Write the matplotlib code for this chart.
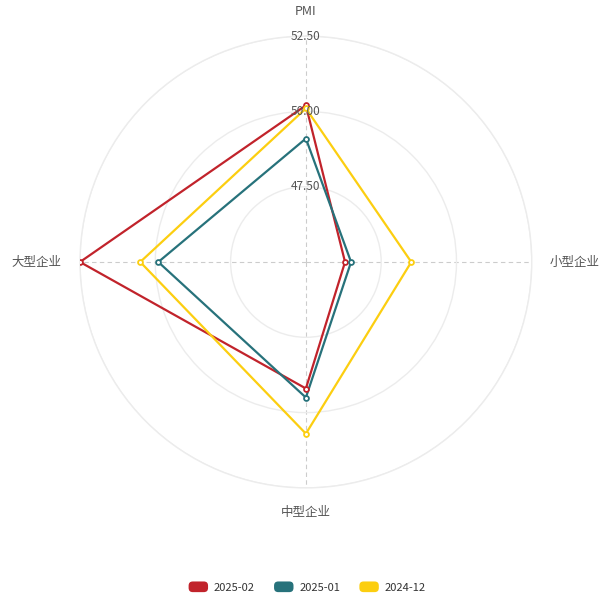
import numpy as np
import matplotlib
matplotlib.use("Agg")
import matplotlib.pyplot as plt
from matplotlib.patches import FancyBboxPatch, Patch
from matplotlib.legend_handler import HandlerPatch

plt.rcParams['font.family'] = ['Noto Sans CJK SC', 'DejaVu Sans']

# data
indicators = ["PMI", "小型企业", "中型企业", "大型企业"]
series_names = ["2025-02", "2025-01", "2024-12"]
vals_2025_02 = [50.2, 46.3, 49.2, 52.5]
vals_2025_01 = [49.1, 46.5, 49.5, 49.9]
vals_2024_12 = [50.1, 48.5, 50.7, 50.5]
colors = ["#C1232B", "#27727B", "#FCCE10"]
r_min, r_max = 45.0, 52.5
r_ticks = [47.5, 50.0, 52.5]


class RoundHandler(HandlerPatch):
    def create_artists(self, legend, orig_handle, xdescent, ydescent,
                       width, height, fontsize, trans):
        p = FancyBboxPatch((-xdescent + 1, -ydescent), width - 2, height,
                           boxstyle="round,pad=0,rounding_size=3",
                           facecolor=orig_handle.get_facecolor(),
                           edgecolor="none", transform=trans)
        return [p]


fig = plt.figure(figsize=(6.13, 5.99), dpi=100)
ax = fig.add_axes([0.1305, 0.1853, 0.737, 0.7546], projection="polar")
ax.set_theta_zero_location("N")
ax.set_theta_direction(-1)
ax.set_ylim(r_min, r_max)

n = len(indicators)
theta = np.arange(n) * 2 * np.pi / n

# grid
ax.set_xticks(theta)
ax.set_xticklabels([])
ax.set_yticks(r_ticks)
ax.set_yticklabels([])
ax.xaxis.grid(True, color="#cccccc", linestyle=(0, (4, 3)), linewidth=0.8)
ax.yaxis.grid(True, color="#ececec", linestyle="-", linewidth=1.0)
ax.spines["polar"].set_color("#ececec")
ax.spines["polar"].set_linewidth(1.0)
ax.tick_params(length=0)

for v in r_ticks:
    ax.text(0, v, f"{v:.2f}", ha="center", va="center", fontsize=8.5,
            color="#555555", zorder=5)

# indicator names
label_r = 53.1
ax.text(theta[0], label_r, indicators[0], ha="center", va="bottom",
        fontsize=9, color="#555555")
ax.text(theta[1], label_r, indicators[1], ha="left", va="center",
        fontsize=9, color="#555555")
ax.text(theta[2], label_r, indicators[2], ha="center", va="top",
        fontsize=9, color="#555555")
ax.text(theta[3], label_r, indicators[3], ha="right", va="center",
        fontsize=9, color="#555555")

all_vals = [vals_2025_02, vals_2025_01, vals_2024_12]
th_closed = np.append(theta, theta[0])
for name, vals, c in zip(series_names, all_vals, colors):
    v = np.append(vals, vals[0])
    ax.plot(th_closed, v, color=c, linewidth=1.6, zorder=3)
    ax.plot(theta, vals, linestyle="none", marker="o", markersize=3.5,
            markerfacecolor="white", markeredgecolor=c, markeredgewidth=1.3,
            zorder=4)

handles = [Patch(facecolor=c, label=s) for s, c in zip(series_names, colors)]
leg = fig.legend(handles=handles, loc="center", bbox_to_anchor=(0.5, 0.02),
                 ncol=3, frameon=False, fontsize=8, handler_map={Patch: RoundHandler()},
                 handlelength=2.0, handleheight=1.1, columnspacing=1.6,
                 handletextpad=0.4)
for t in leg.get_texts():
    t.set_color("#333333")

fig.savefig("out.png", dpi=100)
